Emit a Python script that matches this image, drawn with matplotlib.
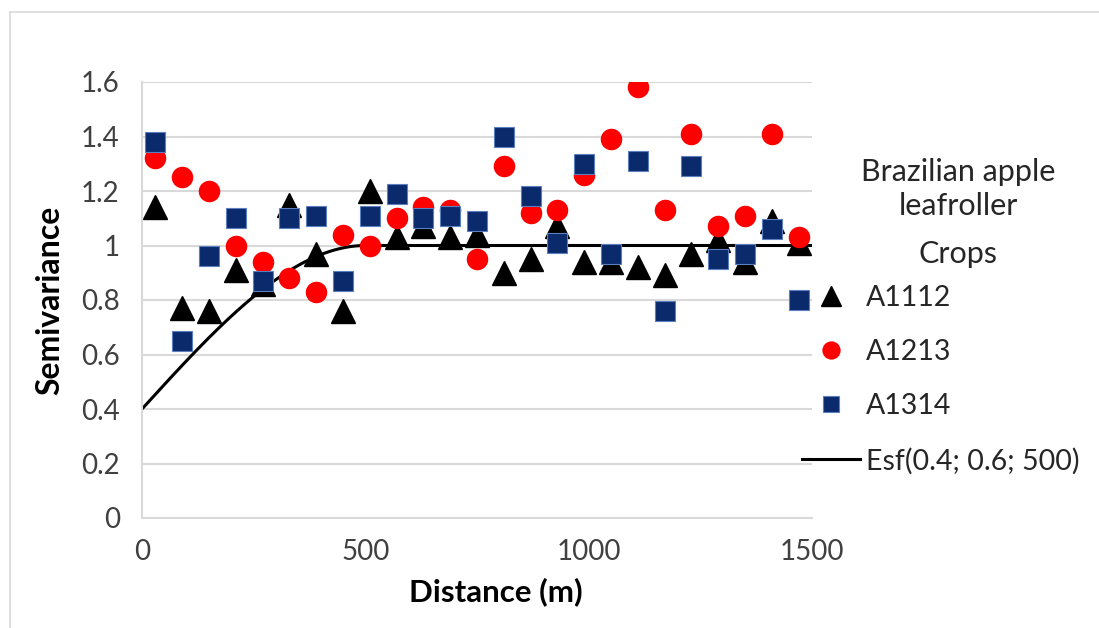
import numpy as np
import matplotlib
matplotlib.use("Agg")
import matplotlib.pyplot as plt
from matplotlib.lines import Line2D

plt.rcParams['font.family'] = ['Lato', 'DejaVu Sans']

# ---- data ----
distance = [30, 90, 150, 210, 270, 330, 390, 450, 510, 570, 630, 690, 750,
            810, 870, 930, 990, 1050, 1110, 1170, 1230, 1290, 1350, 1410, 1470]
a1112 = [1.14, 0.77, 0.76, 0.91, 0.86, 1.15, 0.97, 0.76, 1.20, 1.03, 1.07, 1.03, 1.04,
         0.90, 0.95, 1.07, 0.94, 0.94, 0.92, 0.89, 0.97, 1.02, 0.94, 1.09, 1.01]
a1213 = [1.32, 1.25, 1.20, 1.00, 0.94, 0.88, 0.83, 1.04, 1.00, 1.10, 1.14, 1.13, 0.95,
         1.29, 1.12, 1.13, 1.26, 1.39, 1.58, 1.13, 1.41, 1.07, 1.11, 1.41, 1.03]
a1314 = [1.38, 0.65, 0.96, 1.10, 0.87, 1.10, 1.11, 0.87, 1.11, 1.19, 1.10, 1.11, 1.09,
         1.40, 1.18, 1.01, 1.30, 0.97, 1.31, 0.76, 1.29, 0.95, 0.97, 1.06, 0.80]
series_labels = ['A1112', 'A1213', 'A1314']
model_label = 'Esf(0.4; 0.6; 500)'
nugget, partial_sill, model_range = 0.4, 0.6, 500.0
x_ticks = [0, 500, 1000, 1500]
y_ticks = [0, 0.2, 0.4, 0.6, 0.8, 1.0, 1.2, 1.4, 1.6]
y_tick_labels = ['0', '0.2', '0.4', '0.6', '0.8', '1', '1.2', '1.4', '1.6']

# spherical model curve defined by the legend parameters
h = np.linspace(0, 1500, 601)
hr = np.minimum(h / model_range, 1.0)
gamma = nugget + partial_sill * (1.5 * hr - 0.5 * hr ** 3)

W, H = 1099, 628
fig = plt.figure(figsize=(W / 100, H / 100), dpi=100)
ax = fig.add_axes([142 / W, 1 - 518 / H, (812 - 142) / W, (518 - 82) / H])

grid_c = '#d9d9d9'
ax.set_xlim(0, 1500)
ax.set_ylim(0, 1.6)
ax.set_yticks(y_ticks)
ax.set_yticklabels(y_tick_labels)
ax.set_xticks(x_ticks)
ax.yaxis.grid(True, color=grid_c, linewidth=1.5)
ax.set_axisbelow(True)
for s in ['top', 'right']:
    ax.spines[s].set_visible(False)
for s in ['left', 'bottom']:
    ax.spines[s].set_color(grid_c)
    ax.spines[s].set_linewidth(1.5)
ax.tick_params(length=0, labelsize=20, colors='#404040')
ax.tick_params(axis='y', pad=16)
ax.tick_params(axis='x', pad=15)

ln, = ax.plot(h, gamma, color='black', linewidth=2.2, zorder=2, label=model_label)
tri, = ax.plot(distance, a1112, linestyle='none', marker='^', markersize=17.5,
               color='black', zorder=3, label=series_labels[0])
cir, = ax.plot(distance, a1213, linestyle='none', marker='o', markersize=15.5,
               color='#ff0000', markeredgewidth=0, zorder=4, label=series_labels[1])
sq, = ax.plot(distance, a1314, linestyle='none', marker='s', markersize=14,
              markerfacecolor='#0b2a6b', markeredgecolor='#5b7fc0',
              markeredgewidth=0.8, zorder=5, label=series_labels[2])

ax.set_xlabel('Distance (m)', fontsize=22.5, fontweight='bold', labelpad=9)
ax.xaxis.set_label_coords((496 - 142) / (812 - 142), -0.135)
ax.set_ylabel('Semivariance', fontsize=23, fontweight='bold', labelpad=12)

leg = ax.legend(handles=[tri, cir, sq, ln], loc='upper left',
                bbox_to_anchor=(802 / W, 1 - 285 / H), bbox_transform=fig.transFigure,
                frameon=False, fontsize=20.5, handlelength=2.05, handletextpad=0.2,
                labelspacing=0.99, borderpad=0, borderaxespad=0, markerscale=0.85)
for t in leg.get_texts():
    t.set_color('#262626')

fig.text(958 / W, 1 - 189 / H, 'Brazilian apple\nleafroller', ha='center', va='center',
         fontsize=22, color='#262626', linespacing=1.3)
fig.text(958 / W, 1 - 254 / H, 'Crops', ha='center', va='center', fontsize=22,
         color='#262626')

# outer chart frame (top/left edges visible)
fig.add_artist(Line2D([10 / W, 1.0], [1 - 12 / H, 1 - 12 / H], color='#d9d9d9',
                      linewidth=1.2, transform=fig.transFigure))
fig.add_artist(Line2D([10 / W, 10 / W], [0, 1 - 12 / H], color='#d9d9d9',
                      linewidth=1.2, transform=fig.transFigure))

fig.savefig('out.png', dpi=100, facecolor='white')
